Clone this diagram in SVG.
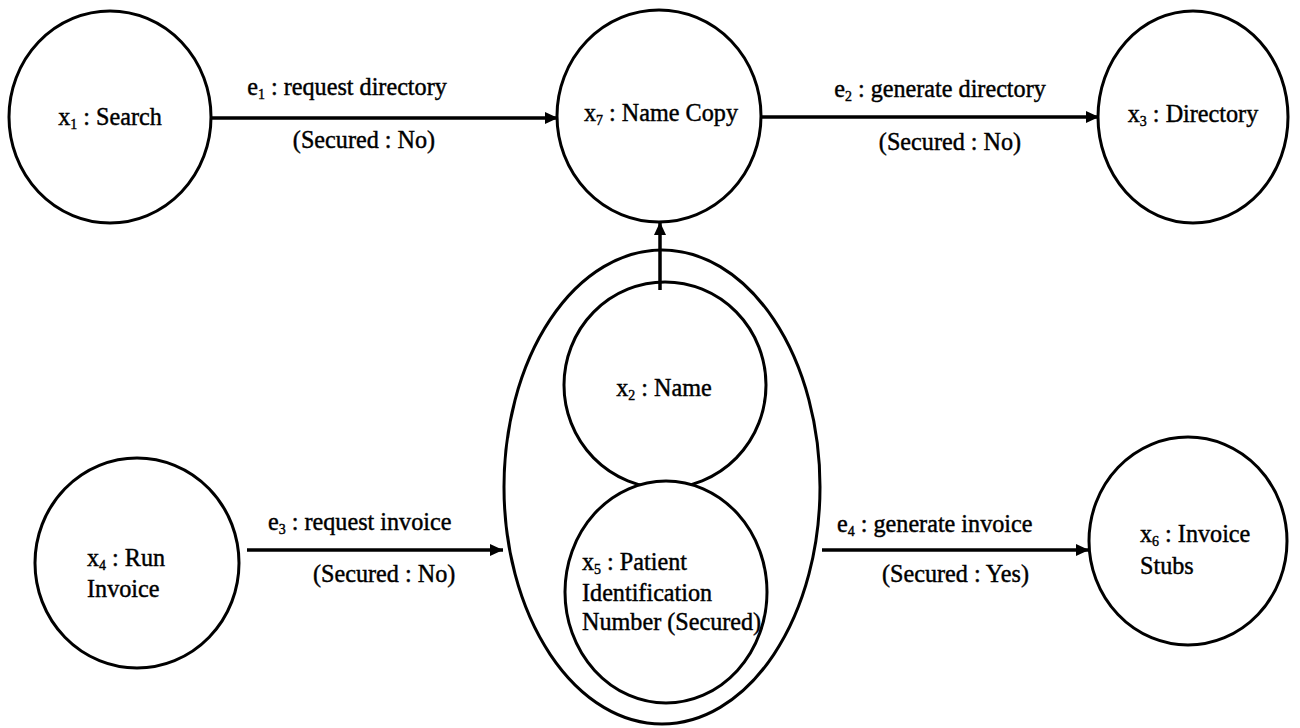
<svg xmlns="http://www.w3.org/2000/svg" width="1300" height="728" viewBox="0 0 1300 728">
<style>
.n{fill:#fff;stroke:#000;stroke-width:3}
.c{fill:none;stroke:#000;stroke-width:3.5}
text{font-family:"Liberation Serif","Times New Roman",serif;font-size:26px;fill:#000;stroke:#000;stroke-width:0.45}
.m{text-anchor:middle}
.s{font-size:15px}
</style>
<defs>
<marker id="ah" markerUnits="userSpaceOnUse" markerWidth="14" markerHeight="14" refX="13" refY="6" orient="auto">
<path d="M0,0 L13,6 L0,12 Z" fill="#000"/>
</marker>
</defs>
<rect width="1300" height="728" fill="#fff"/>
<g id="group-x2-x5">
<ellipse class="n" cx="662" cy="487" rx="158" ry="237"/>
</g>
<g id="x1">
<ellipse class="n" cx="110" cy="117" rx="101" ry="106"/>
<text class="m" transform="translate(110,125) scale(0.93,1)">x<tspan class="s" dy="4">1</tspan><tspan dy="-4"> : Search</tspan></text>
</g>
<g id="x7">
<ellipse class="n" cx="659" cy="116" rx="102" ry="106"/>
<text class="m" transform="translate(661,121) scale(0.93,1)">x<tspan class="s" dy="4">7</tspan><tspan dy="-4"> : Name Copy</tspan></text>
</g>
<g id="x3">
<ellipse class="n" cx="1193" cy="117" rx="95" ry="106"/>
<text class="m" transform="translate(1193,122) scale(0.93,1)">x<tspan class="s" dy="4">3</tspan><tspan dy="-4"> : Directory</tspan></text>
</g>
<g id="x2">
<ellipse class="n" cx="665" cy="385" rx="101" ry="103"/>
<text class="m" transform="translate(664,396) scale(0.93,1)">x<tspan class="s" dy="4">2</tspan><tspan dy="-4"> : Name</tspan></text>
</g>
<g id="x5">
<ellipse class="n" cx="666" cy="592" rx="101" ry="111"/>
<text transform="translate(582,570) scale(0.93,1)">x<tspan class="s" dy="4">5</tspan><tspan dy="-4"> : Patient</tspan></text>
<text transform="translate(582,601) scale(0.93,1)">Identification</text>
<text transform="translate(582,630) scale(0.93,1)">Number (Secured)</text>
</g>
<g id="x4">
<ellipse class="n" cx="137" cy="563" rx="102" ry="105"/>
<text transform="translate(87,566) scale(0.93,1)">x<tspan class="s" dy="4">4</tspan><tspan dy="-4"> : Run</tspan></text>
<text transform="translate(87,597) scale(0.93,1)">Invoice</text>
</g>
<g id="x6">
<ellipse class="n" cx="1188" cy="541" rx="99" ry="104"/>
<text transform="translate(1140,542) scale(0.93,1)">x<tspan class="s" dy="4">6</tspan><tspan dy="-4"> : Invoice</tspan></text>
<text transform="translate(1140,574) scale(0.93,1)">Stubs</text>
</g>
<g id="connectors">
<line class="c" x1="212" y1="118" x2="558" y2="118" marker-end="url(#ah)"/>
<line class="c" x1="762" y1="117" x2="1099" y2="117" marker-end="url(#ah)"/>
<line class="c" x1="247" y1="550" x2="503" y2="550" marker-end="url(#ah)"/>
<line class="c" x1="822" y1="550" x2="1089" y2="550" marker-end="url(#ah)"/>
<line class="c" x1="660" y1="290" x2="660" y2="222" marker-end="url(#ah)"/>
<text class="m" transform="translate(347,95) scale(0.93,1)">e<tspan class="s" dy="4">1</tspan><tspan dy="-4"> : request directory</tspan></text>
<text class="m" transform="translate(364,148) scale(0.93,1)">(Secured : No)</text>
<text class="m" transform="translate(940,97) scale(0.93,1)">e<tspan class="s" dy="4">2</tspan><tspan dy="-4"> : generate directory</tspan></text>
<text class="m" transform="translate(950,150) scale(0.93,1)">(Secured : No)</text>
<text transform="translate(268,530) scale(0.93,1)">e<tspan class="s" dy="4">3</tspan><tspan dy="-4"> : request invoice</tspan></text>
<text transform="translate(313,582) scale(0.93,1)">(Secured : No)</text>
<text transform="translate(837,532) scale(0.93,1)">e<tspan class="s" dy="4">4</tspan><tspan dy="-4"> : generate invoice</tspan></text>
<text transform="translate(882,582) scale(0.93,1)">(Secured : Yes)</text>
</g>
</svg>
